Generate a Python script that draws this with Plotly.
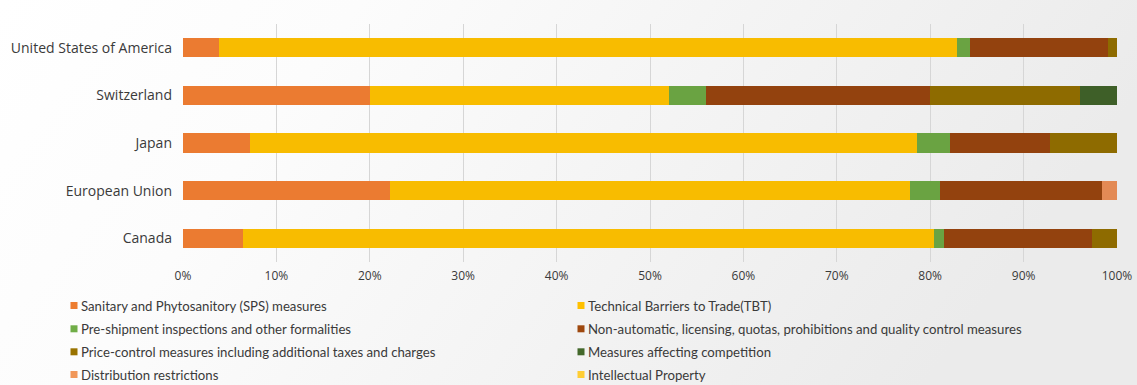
import base64
import plotly.graph_objects as go

countries = ["United States of America", "Switzerland", "Japan", "European Union", "Canada"]

series_names = [
    "Sanitary and Phytosanitory (SPS) measures",
    "Technical Barriers to Trade(TBT)",
    "Pre-shipment inspections and other formalities",
    "Non-automatic, licensing, quotas, prohibitions and quality control measures",
    "Price-control measures including additional taxes and charges",
    "Measures affecting competition",
    "Distribution restrictions",
    "Intellectual Property",
]

sps = [3.9, 20.0, 7.14, 22.2, 6.4]
tbt = [79.0, 32.0, 71.43, 55.6, 74.0]
pre_shipment = [1.4, 4.0, 3.57, 3.2, 1.1]
non_automatic = [14.7, 24.0, 10.71, 17.4, 15.8]
price_control = [1.0, 16.0, 7.14, 0.0, 2.7]
competition = [0.0, 4.0, 0.0, 0.0, 0.0]
distribution = [0.0, 0.0, 0.0, 1.6, 0.0]
intellectual_property = [0.0, 0.0, 0.0, 0.0, 0.0]

series_values = [sps, tbt, pre_shipment, non_automatic, price_control,
                 competition, distribution, intellectual_property]

bar_colors = ["#EB7B31", "#F8BC00", "#6AA342", "#93420E", "#8E6B00",
              "#3E5F28", "#E38A55", "#FFCA2E"]
legend_colors = ["#ED7D31", "#FFC000", "#70AD47", "#9E480E", "#997300",
                 "#43682B", "#F1975A", "#FFCD33"]

tick_vals = [0, 10, 20, 30, 40, 50, 60, 70, 80, 90, 100]
tick_text = [f"{v}%" for v in tick_vals]

W, H = 1137, 385
L, R, T, B = 183, 20, 24, 123
PW, PH = W - L - R, H - T - B

TICK_FONT = "Open Sans"
LEG_FONT = "Lato"
TXT = "#3a3a3a"

fig = go.Figure()
for name, vals, col in zip(series_names, series_values, bar_colors):
    fig.add_trace(go.Bar(
        y=countries, x=vals, name=name, orientation="h",
        marker=dict(color=col, line=dict(width=0)),
        showlegend=False,
    ))

svg = (f'<svg xmlns="http://www.w3.org/2000/svg" width="{W}" height="{H}" preserveAspectRatio="none">'
       '<defs><linearGradient id="g" x1="0" y1="0" x2="1" y2="0.25">'
       '<stop offset="0" stop-color="#ffffff"/>'
       '<stop offset="0.3" stop-color="#fcfcfc"/>'
       '<stop offset="1" stop-color="#ebebeb"/>'
       '</linearGradient></defs>'
       f'<rect width="{W}" height="{H}" fill="url(#g)"/></svg>')
src = "data:image/svg+xml;base64," + base64.b64encode(svg.encode()).decode()

def px_x(p):
    return (p - L) / PW

def px_y(p):
    return (T + PH - p) / PH

images = [dict(source=src, xref="paper", yref="paper", x=px_x(0), y=px_y(0),
               sizex=W / PW, sizey=H / PH, xanchor="left", yanchor="top",
               sizing="stretch", layer="below")]

# custom two-column legend (row-major), small square swatches
annotations, shapes = [], []
row_y = [305.5, 328.8, 351.8, 374.5]
sq_cx = [74, 581]
txt_x = [78.5, 586]
for i, (name, col) in enumerate(zip(series_names, legend_colors)):
    r, c = divmod(i, 2)
    shapes.append(dict(
        type="rect", xref="paper", yref="paper",
        xsizemode="pixel", ysizemode="pixel",
        xanchor=px_x(sq_cx[c]), yanchor=px_y(row_y[r]),
        x0=-3.5, x1=3.5, y0=-3.5, y1=3.5,
        fillcolor=col, line=dict(width=0),
    ))
    annotations.append(dict(
        xref="paper", yref="paper", x=px_x(txt_x[c]), y=px_y(row_y[r]),
        xanchor="left", yanchor="middle", showarrow=False,
        text=name, font=dict(family=LEG_FONT, size=13.2, color=TXT),
    ))

fig.update_layout(
    width=W, height=H, autosize=False,
    margin=dict(l=L, r=R, t=T, b=B, pad=0, autoexpand=False),
    barmode="stack", barnorm="percent", bargap=0.6,
    paper_bgcolor="white", plot_bgcolor="rgba(0,0,0,0)",
    font=dict(family=TICK_FONT, size=12, color=TXT),
    images=images, annotations=annotations, shapes=shapes,
    showlegend=False,
    xaxis=dict(range=[0, 100], tickvals=tick_vals, ticktext=tick_text,
               automargin=False,
               showgrid=True, gridcolor="#d6d6d6", gridwidth=1,
               zeroline=False, showline=False, ticks="",
               tickfont=dict(size=12),
               ticklabelstandoff=5, fixedrange=True),
    yaxis=dict(autorange="reversed", automargin=False,
               showgrid=False, zeroline=False,
               showline=False, ticks="", tickfont=dict(size=14),
               ticklabelstandoff=10),
)

fig.write_html("out.html")
